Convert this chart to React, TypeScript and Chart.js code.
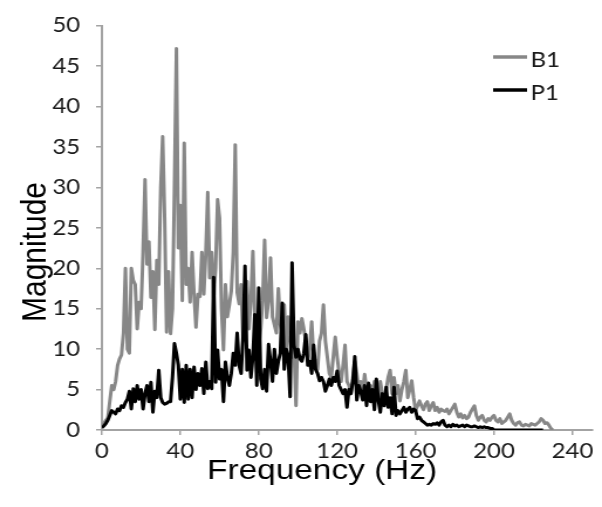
import React, { useEffect, useRef } from "react";
import { Chart, registerables } from "chart.js";

Chart.register(...registerables);

// Frequency bin spacing (Hz) of both spectra
const FREQ_STEP_HZ = 1;

const SERIES_NAMES = ["B1", "P1"];
const X_TITLE = "Frequency (Hz)";
const Y_TITLE = "Magnitude";
const X_TICKS = [0, 40, 80, 120, 160, 200, 240];
const X_MAX = 250;
const Y_MIN = 0;
const Y_MAX = 50;
const Y_STEP = 5;

// B1 magnitude, 0 Hz .. 230 Hz
const B1 = [
  0.4, 0.8, 1.2, 1.5, 3.5, 5.5, 5.0, 6.0, 8.0, 8.8,
  9.3, 12, 20, 10, 9.5, 20, 18.5, 18, 12.5, 15.8,
  15, 22, 31, 20.5, 23.3, 16.4, 19.6, 12.4, 21, 18,
  30, 36.3, 26.2, 12.1, 19.6, 11.9, 15, 30, 47.2, 22.5,
  27.8, 16, 35.5, 18, 20, 15.8, 22, 16.8, 12.7, 16.8,
  16.5, 22, 16.8, 22, 29.4, 18.8, 22, 16.4, 20, 28.5,
  26.2, 15, 9.9, 18, 14, 15.5, 17.2, 22, 35.3, 17,
  15.6, 18, 11, 14, 18.4, 12.5, 16, 22.1, 14, 12,
  10.5, 12.5, 16, 23.5, 13.9, 16, 21.3, 14, 13, 12,
  17.5, 13, 12, 15.5, 10, 14, 11, 9, 10, 3,
  13.4, 12, 13.8, 12.5, 11, 8.5, 10, 13.4, 9, 8.5,
  7.5, 11, 12, 15.5, 11, 9, 7, 6.5, 9, 11.5,
  9, 7, 6, 8, 10.5, 6, 5.5, 4.5, 6.5, 8.5,
  7, 5, 6, 4.5, 6.9, 5, 4, 5.5, 4, 6,
  5, 3.5, 6, 4.5, 3.5, 5, 6.5, 7.4, 4.5, 6.5,
  4.5, 5.5, 3.6, 5, 6, 7.4, 4, 5, 6.1, 4,
  2.4, 3, 3.6, 3, 2.5, 3.2, 3.5, 2.4, 3, 3.4,
  2.4, 2.8, 2.2, 2.6, 2.4, 2.3, 2.6, 2.0, 2.4, 2.8,
  3.2, 2.2, 1.6, 2.0, 1.5, 1.8, 1.4, 1.6, 2.2, 2.6,
  3.0, 1.8, 1.2, 1.6, 1.8, 1.2, 1.0, 1.4, 1.2, 1.6,
  1.8, 1.2, 1.0, 1.4, 0.8, 1.0, 1.2, 1.6, 2.0, 1.2,
  0.8, 0.6, 0.9, 1.0, 0.6, 0.5, 0.7, 0.6, 0.5, 0.8,
  0.7, 0.6, 0.8, 1.0, 1.4, 1.2, 0.8, 0.9, 0.6, 0.2,
  0,
];

// P1 magnitude, 0 Hz .. 225 Hz
const P1 = [
  0.3, 0.5, 0.8, 1.2, 1.8, 2.4, 2.2, 2.0, 2.6, 2.4,
  3.0, 2.8, 3.4, 3.8, 4.8, 2.6, 5.1, 3.5, 5.5, 3.8,
  5.0, 2.6, 4.5, 5.5, 3.5, 5.9, 2.2, 4.8, 4.0, 7.4,
  4.0, 3.4, 3.2, 3.3, 3.5, 3.5, 6.5, 10.7, 9.5, 8.0,
  3.8, 7.5, 3.4, 8.0, 3.8, 7.5, 4.0, 7.8, 5.0, 7.0,
  5.5, 7.6, 4.5, 8.4, 5.1, 6.0, 5.1, 18.9, 5.9, 9.9,
  6.3, 7.5, 3.5, 8.4, 6.5, 5.5, 7.0, 9.5, 8.0, 12.0,
  8.0, 7.0, 11.5, 20.3, 7.4, 9.9, 6.5, 9.0, 14.3, 5.5,
  17.6, 6.3, 5.1, 7.5, 4.8, 10.6, 8.5, 6.0, 10.0, 7.0,
  8.5, 9.5, 15.7, 7.5, 10.0, 9.0, 4.1, 20.7, 10.5, 9.0,
  10.0, 8.8, 8.5, 9.5, 11.8, 8.0, 8.5, 7.0, 10.5, 7.5,
  7.0, 6.1, 6.5, 6.0, 4.8, 5.5, 6.3, 5.5, 6.5, 6.0,
  7.3, 5.5, 5.0, 4.5, 5.0, 2.8, 5.0, 4.5, 6.0, 9.1,
  3.7, 5.5, 4.8, 3.7, 5.5, 3.0, 5.8, 3.5, 5.0, 2.5,
  6.3, 3.7, 2.2, 4.5, 3.0, 5.3, 2.8, 4.0, 2.0, 5.3,
  1.8, 2.4, 2.0, 2.4, 2.8, 2.2, 2.6, 2.8, 2.2, 2.6,
  2.4, 1.4, 1.6, 1.2, 1.0, 0.8, 0.6, 0.7, 0.6, 0.8,
  0.7, 0.9, 0.6, 1.0, 1.2, 0.6, 0.4, 0.6, 0.4, 0.7,
  0.5, 0.6, 0.4, 0.5, 0.6, 0.4, 0.6, 0.5, 0.4, 0.4,
  0.5, 0.4, 0.3, 0.4, 0.3, 0.4, 0.3, 0.3, 0.2, 0.2,
  0, 0, 0, 0, 0, 0, 0, 0, 0, 0,
  0, 0, 0, 0, 0, 0, 0, 0, 0, 0,
  0, 0, 0, 0, 0, 0,
];

const B1_COLOR = "#878787";
const P1_COLOR = "#000000";
const AXIS_COLOR = "#a3a3a3";
const TEXT_COLOR = "#1a1a1a";

// The reference is horizontally stretched; draw on a narrower canvas and stretch it.
const DISPLAY_W = 602;
const DISPLAY_H = 507;
const CANVAS_W = 514;
const CANVAS_H = 507;

const toPoints = (vals: number[]) =>
  vals.map((v, i) => ({ x: i * FREQ_STEP_HZ, y: v }));

const overlayPlugin = {
  id: "overlay",
  afterDraw(chart: any) {
    const ctx = chart.ctx as CanvasRenderingContext2D;
    ctx.save();
    // Legend
    const legendItems = [
      { label: SERIES_NAMES[0], color: B1_COLOR, y: 57 },
      { label: SERIES_NAMES[1], color: P1_COLOR, y: 90 },
    ];
    ctx.font = "20.5px Lato";
    ctx.textBaseline = "middle";
    ctx.textAlign = "left";
    for (const it of legendItems) {
      ctx.strokeStyle = it.color;
      ctx.lineWidth = 3.5;
      ctx.beginPath();
      ctx.moveTo(421, it.y);
      ctx.lineTo(450, it.y);
      ctx.stroke();
      ctx.fillStyle = TEXT_COLOR;
      ctx.fillText(it.label, 453, it.y + 3);
    }
    // X title
    ctx.fillStyle = "#000";
    ctx.font = "28.5px 'Liberation Sans'";
    ctx.textAlign = "center";
    ctx.textBaseline = "alphabetic";
    ctx.fillText(X_TITLE, 275, 479);
    // Y title
    ctx.save();
    ctx.translate(38.5, 252);
    ctx.rotate(-Math.PI / 2);
    ctx.font = "30px 'Liberation Sans'";
    ctx.textAlign = "center";
    ctx.textBaseline = "alphabetic";
    ctx.fillText(Y_TITLE, 0, 0);
    ctx.restore();
    ctx.restore();
  },
};

export default function App() {
  const canvasRef = useRef<HTMLCanvasElement | null>(null);

  useEffect(() => {
    const canvas = canvasRef.current;
    if (!canvas) return;
    const chart = new Chart(canvas, {
      type: "line",
      data: {
        datasets: [
          {
            label: SERIES_NAMES[0],
            data: toPoints(B1),
            borderColor: B1_COLOR,
            borderWidth: 3,
            pointRadius: 0,
            tension: 0,
            fill: false,
            borderJoinStyle: "round",
            order: 2,
          },
          {
            label: SERIES_NAMES[1],
            data: toPoints(P1),
            borderColor: P1_COLOR,
            borderWidth: 3,
            pointRadius: 0,
            tension: 0,
            fill: false,
            borderJoinStyle: "round",
            order: 1,
          },
        ],
      },
      options: {
        animation: false,
        responsive: false,
        devicePixelRatio: 1,
        layout: { padding: { left: 0, right: 8.5, top: 19, bottom: 0 } },
        plugins: {
          legend: { display: false },
          tooltip: { enabled: false },
        },
        scales: {
          x: {
            type: "linear",
            min: 0,
            max: X_MAX,
            afterBuildTicks(scale: any) {
              scale.ticks = X_TICKS.map((v) => ({ value: v }));
            },
            afterFit(scale: any) {
              scale.height = 77;
            },
            border: { display: true, color: AXIS_COLOR, width: 2 },
            grid: {
              display: true,
              drawOnChartArea: false,
              drawTicks: true,
              tickLength: 5,
              color: AXIS_COLOR,
              lineWidth: 1.5,
            },
            ticks: {
              autoSkip: false,
              maxRotation: 0,
              padding: 4,
              color: TEXT_COLOR,
              font: { family: "Lato", size: 20.5 },
            },
          },
          y: {
            type: "linear",
            min: Y_MIN,
            max: Y_MAX,
            afterFit(scale: any) {
              scale.width = 87;
            },
            border: { display: true, color: AXIS_COLOR, width: 2 },
            grid: {
              display: true,
              drawOnChartArea: false,
              drawTicks: true,
              tickLength: 5,
              color: AXIS_COLOR,
              lineWidth: 1.5,
            },
            ticks: {
              stepSize: Y_STEP,
              padding: 13.5,
              color: TEXT_COLOR,
              font: { family: "Lato", size: 20.5 },
            },
          },
        },
      },
      plugins: [overlayPlugin],
    } as any);
    return () => chart.destroy();
  }, []);

  return (
    <div
      style={{
        position: "absolute",
        left: 0,
        top: 0,
        width: DISPLAY_W,
        height: DISPLAY_H,
        background: "#fff",
        overflow: "hidden",
      }}
    >
      <canvas
        ref={canvasRef}
        width={CANVAS_W}
        height={CANVAS_H}
        style={{ width: DISPLAY_W + "px", height: DISPLAY_H + "px", display: "block" }}
      />
    </div>
  );
}
